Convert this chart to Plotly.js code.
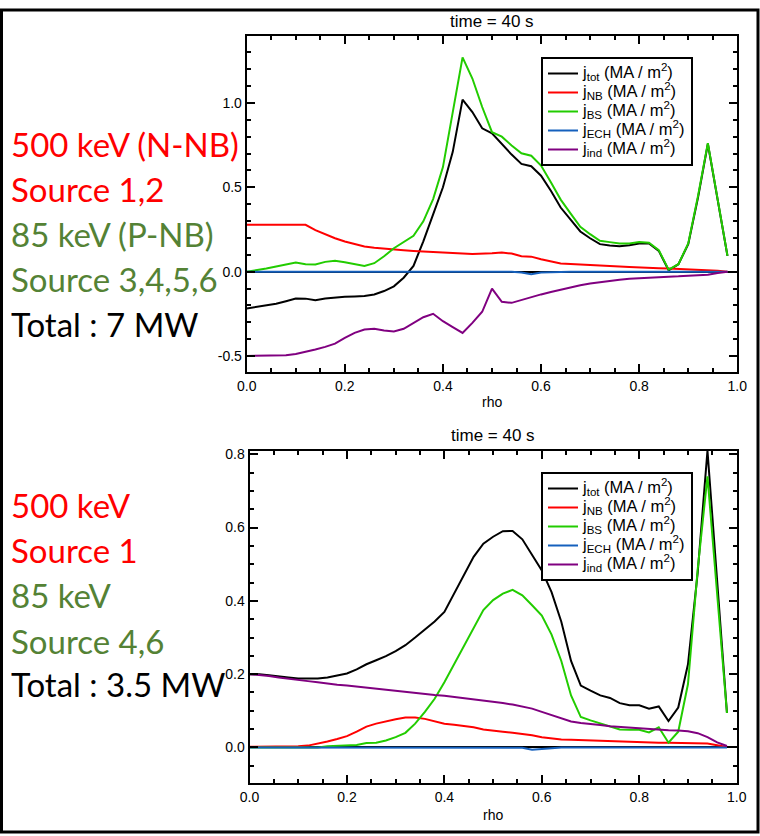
<!DOCTYPE html>
<html>
<head>
<meta charset="utf-8">
<script src="https://cdn.plot.ly/plotly-3.0.1.min.js"></script>
<style>
  html, body { margin: 0; padding: 0; background: #ffffff; }
  #chart { width: 760px; height: 836px; }
</style>
</head>
<body>
<div id="chart"></div>
<script>
// ---------------- data ----------------
const rho = [0.00,0.02,0.04,0.06,0.08,0.10,0.12,0.14,0.16,0.18,0.20,0.22,0.24,0.26,0.28,0.30,0.32,0.34,0.36,0.38,
             0.40,0.42,0.44,0.46,0.48,0.50,0.52,0.54,0.56,0.58,0.60,0.62,0.64,0.66,0.68,0.70,0.72,0.74,0.76,0.78,
             0.80,0.82,0.84,0.86,0.88,0.90,0.92,0.94,0.96,0.98];

const seriesNames = ["j<sub>tot</sub> (MA / m<sup>2</sup>)", "j<sub>NB</sub> (MA / m<sup>2</sup>)",
                     "j<sub>BS</sub> (MA / m<sup>2</sup>)", "j<sub>ECH</sub> (MA / m<sup>2</sup>)",
                     "j<sub>ind</sub> (MA / m<sup>2</sup>)"];

// Top panel: 500 keV N-NB (sources 1,2) + 85 keV P-NB (sources 3-6), 7 MW
const topTot = [-0.218,-0.21,-0.20,-0.19,-0.175,-0.159,-0.16,-0.169,-0.159,-0.153,
                -0.149,-0.147,-0.145,-0.135,-0.115,-0.087,-0.036,0.034,0.18,0.34,
                0.50,0.71,1.02,0.946,0.85,0.82,0.758,0.694,0.639,0.625,
                0.569,0.48,0.38,0.306,0.238,0.198,0.163,0.155,0.151,0.157,
                0.167,0.167,0.123,0.008,0.044,0.163,0.44,0.758,0.42,0.093];
const topNB  = [0.278,0.278,0.278,0.278,0.278,0.278,0.278,0.246,0.222,0.198,
                0.179,0.163,0.149,0.141,0.135,0.131,0.127,0.123,0.119,0.115,
                0.111,0.109,0.107,0.105,0.105,0.109,0.113,0.107,0.091,0.089,
                0.073,0.06,0.048,0.046,0.042,0.038,0.034,0.032,0.03,0.028,
                0.024,0.022,0.02,0.018,0.016,0.014,0.012,0.012,0.006,0];
const topBS  = [0,0.008,0.018,0.03,0.042,0.054,0.044,0.042,0.058,0.065,
                0.056,0.044,0.034,0.05,0.091,0.139,0.175,0.212,0.298,0.43,
                0.62,0.95,1.27,1.145,0.976,0.827,0.80,0.748,0.702,0.687,
                0.629,0.53,0.427,0.345,0.266,0.222,0.183,0.175,0.167,0.167,
                0.175,0.171,0.127,0.012,0.044,0.167,0.45,0.762,0.42,0.093];
const topECH = [0,0,0,0,0,0,0,0,0,0,
                0,0,0,0,0,0,0,0,0,0,
                0,0,0,0,0,0,0,0,-0.005,-0.015,
                -0.005,-0.002,0,0,0,0,0,0,0,0,
                0,0,0,0,0,0,0,0,0,0];
const topInd = [-0.5,-0.5,-0.5,-0.5,-0.496,-0.488,-0.476,-0.462,-0.446,-0.427,
                -0.393,-0.363,-0.343,-0.339,-0.349,-0.355,-0.339,-0.304,-0.27,-0.25,
                -0.294,-0.329,-0.363,-0.304,-0.238,-0.101,-0.179,-0.185,-0.167,-0.151,
                -0.135,-0.121,-0.107,-0.093,-0.081,-0.071,-0.062,-0.054,-0.048,-0.042,
                -0.038,-0.034,-0.032,-0.03,-0.028,-0.026,-0.022,-0.018,-0.008,0];

// Bottom panel: 500 keV (source 1) + 85 keV (sources 4,6), 3.5 MW
const botTot = [0.2,0.2,0.197,0.195,0.191,0.188,0.187,0.188,0.191,0.196,
                0.202,0.213,0.227,0.238,0.249,0.263,0.279,0.30,0.321,0.344,
                0.37,0.42,0.47,0.52,0.556,0.575,0.59,0.591,0.568,0.527,
                0.483,0.424,0.343,0.236,0.169,0.155,0.142,0.135,0.121,0.115,
                0.115,0.106,0.112,0.072,0.109,0.227,0.478,0.81,0.45,0.094];
const botNB  = [0.002,0.002,0.002,0.002,0.002,0.003,0.005,0.01,0.016,0.023,
                0.031,0.043,0.057,0.065,0.072,0.077,0.082,0.082,0.078,0.072,
                0.065,0.062,0.059,0.055,0.049,0.045,0.043,0.04,0.037,0.033,
                0.028,0.024,0.022,0.021,0.02,0.019,0.018,0.017,0.016,0.015,
                0.015,0.014,0.013,0.013,0.012,0.012,0.011,0.011,0.006,0.001];
const botBS  = [0,0,0,0,0,0,0,0,0.003,0.004,
                0.005,0.007,0.012,0.013,0.019,0.028,0.04,0.065,0.097,0.133,
                0.178,0.227,0.276,0.326,0.375,0.402,0.42,0.43,0.415,0.388,
                0.36,0.308,0.236,0.142,0.083,0.074,0.065,0.058,0.049,0.048,
                0.048,0.041,0.055,0.013,0.043,0.173,0.487,0.74,0.42,0.094];
const botECH = [0,0,0,0,0,0,0,0,0,0,
                0,0,0,0,0,0,0,0,0,0,
                0,0,0,0,0,0,0,-0.002,-0.001,-0.006,
                -0.003,-0.002,0,0,0,0,0,0,0,0,
                0,0,0,0,0,0,0,0,0,0];
const botInd = [0.2,0.198,0.195,0.191,0.187,0.185,0.181,0.178,0.174,0.171,
                0.169,0.166,0.162,0.16,0.156,0.153,0.152,0.149,0.146,0.143,
                0.141,0.138,0.135,0.132,0.128,0.125,0.121,0.117,0.112,0.106,
                0.097,0.088,0.079,0.071,0.067,0.065,0.061,0.058,0.056,0.053,
                0.051,0.049,0.048,0.047,0.046,0.044,0.039,0.028,0.014,0.004];

const xTickVals = [0,0.2,0.4,0.6,0.8,1.0];
const xTickText = ["0.0","0.2","0.4","0.6","0.8","1.0"];
const topYTickVals = [-0.5,0,0.5,1.0];
const topYTickText = ["-0.5","0.0","0.5","1.0"];
const botYTickVals = [0,0.2,0.4,0.6,0.8];
const botYTickText = ["0.0","0.2","0.4","0.6","0.8"];

const leftTop = [["500 keV (N-NB)","#ff0000"],["Source 1,2","#ff0000"],["85 keV (P-NB)","#548235"],
                 ["Source 3,4,5,6","#548235"],["Total : 7 MW","#000000"]];
const leftBot = [["500 keV","#ff0000"],["Source 1","#ff0000"],["85 keV","#548235"],
                 ["Source 4,6","#548235"],["Total : 3.5 MW","#000000"]];

// ---------------- styling ----------------
const colors = ["#000000","#ff0000","#22cc00","#1560bd","#800080"];
const W = 760, H = 836;
const px = v => v / W;
const py = v => 1 - v / H;
const legName = s => '<span style="font-size:16.5px">' + s + '</span>';

const traces = [];
[topTot, topNB, topBS, topECH, topInd].forEach((ys, i) => {
  traces.push({x: rho, y: ys, type: "scatter", mode: "lines", name: legName(seriesNames[i]),
    line: {color: colors[i], width: 2}, xaxis: "x", yaxis: "y", legend: "legend"});
});
[botTot, botNB, botBS, botECH, botInd].forEach((ys, i) => {
  traces.push({x: rho, y: ys, type: "scatter", mode: "lines", name: legName(seriesNames[i]),
    line: {color: colors[i], width: 2}, xaxis: "x2", yaxis: "y2", legend: "legend2"});
});

const tickFont = {family: "Liberation Sans, Arial, sans-serif", size: 14, color: "#000"};
function xAxis(dom, anchor) {
  return {domain: dom, anchor: anchor, range: [0, 1], showline: true, linecolor: "#000", linewidth: 2,
    mirror: "allticks", ticks: "inside", ticklen: 8, tickwidth: 2, tickcolor: "#000",
    tickmode: "array", tickvals: xTickVals, ticktext: xTickText, tickfont: tickFont,
    showgrid: false, zeroline: false,
    minor: {ticks: "inside", ticklen: 4, tickwidth: 2, tickcolor: "#000", tickmode: "linear", tick0: 0, dtick: 0.05, showgrid: false}};
}
function yAxis(dom, anchor, range, tv, tt, mdt) {
  return {domain: dom, anchor: anchor, range: range, showline: true, linecolor: "#000", linewidth: 2,
    mirror: "allticks", ticks: "inside", ticklen: 8, tickwidth: 2, tickcolor: "#000",
    tickmode: "array", tickvals: tv, ticktext: tt, tickfont: tickFont,
    showgrid: false, zeroline: true, zerolinecolor: "#000", zerolinewidth: 2,
    minor: {ticks: "inside", ticklen: 4, tickwidth: 2, tickcolor: "#000", tickmode: "linear", tick0: 0, dtick: mdt, showgrid: false}};
}

const annotations = [];
const titleFont = {family: "Liberation Sans, Arial, sans-serif", size: 17, color: "#000"};
annotations.push({text: "time = 40 s", xref: "paper", yref: "paper", x: px(492), y: py(22), showarrow: false, xanchor: "center", yanchor: "middle", font: titleFont});
annotations.push({text: "time = 40 s", xref: "paper", yref: "paper", x: px(493), y: py(436), showarrow: false, xanchor: "center", yanchor: "middle", font: titleFont});
annotations.push({text: "rho", xref: "paper", yref: "paper", x: px(492), y: py(402), showarrow: false, xanchor: "center", yanchor: "middle", font: tickFont});
annotations.push({text: "rho", xref: "paper", yref: "paper", x: px(493), y: py(815), showarrow: false, xanchor: "center", yanchor: "middle", font: tickFont});

const bigFont = {family: "Lato, sans-serif", size: 33};
const topCenters = [144, 189, 234, 279, 324];
const botCenters = [505, 550, 595, 641, 684];
leftTop.forEach((t, i) => annotations.push({text: t[0], xref: "paper", yref: "paper", x: px(9), y: py(topCenters[i]),
  showarrow: false, xanchor: "left", yanchor: "middle", font: Object.assign({color: t[1]}, bigFont)}));
leftBot.forEach((t, i) => annotations.push({text: t[0], xref: "paper", yref: "paper", x: px(9), y: py(botCenters[i]),
  showarrow: false, xanchor: "left", yanchor: "middle", font: Object.assign({color: t[1]}, bigFont)}));

const legendFont = {family: "Liberation Sans, Arial, sans-serif", size: 11, color: "#000"};
const layout = {
  width: W, height: H, margin: {l: 0, r: 0, t: 0, b: 0},
  paper_bgcolor: "#fff", plot_bgcolor: "#fff",
  showlegend: true,
  xaxis: xAxis([px(246.7), px(737.3)], "y"),
  yaxis: yAxis([py(372), py(36)], "x", [-0.595, 1.397], topYTickVals, topYTickText, 0.1),
  xaxis2: xAxis([px(249.5), px(736.7)], "y2"),
  yaxis2: yAxis([py(783), py(451)], "x2", [-0.097, 0.809], botYTickVals, botYTickText, 0.05),
  legend: {x: px(541), y: py(57), xanchor: "left", yanchor: "top", bgcolor: "#fff", bordercolor: "#000", borderwidth: 2,
    font: legendFont, tracegroupgap: 0, itemwidth: 30},
  legend2: {x: px(541), y: py(472), xanchor: "left", yanchor: "top", bgcolor: "#fff", bordercolor: "#000", borderwidth: 2,
    font: legendFont, tracegroupgap: 0, itemwidth: 30},
  annotations: annotations,
  shapes: [{type: "rect", xref: "paper", yref: "paper", x0: px(1.5), x1: px(758), y0: py(832), y1: py(10),
    line: {color: "#000", width: 3}, layer: "above"}]
};

Plotly.newPlot("chart", traces, layout, {staticPlot: true});
</script>
</body>
</html>
